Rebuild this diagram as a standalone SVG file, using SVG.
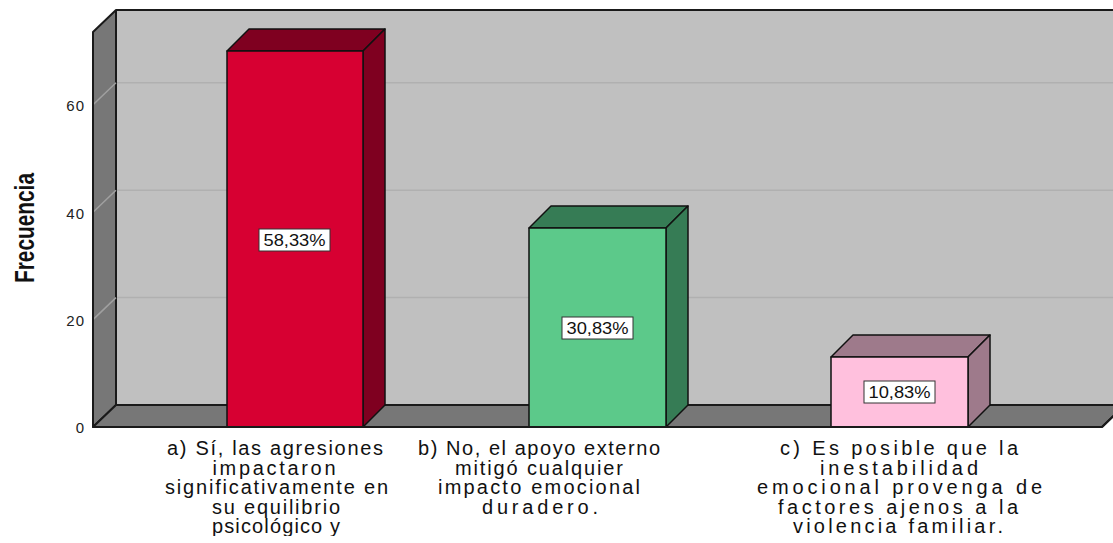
<svg xmlns="http://www.w3.org/2000/svg" width="1113" height="543" viewBox="0 0 1113 543">
<defs>
<style>
.wall{fill:#777777;stroke:#1a1a1a;stroke-width:2;stroke-linejoin:round}
.back{fill:#c0c0c0}
.grid{stroke:#b0b0b0;stroke-width:1.5}
.gridside{stroke:#a0a0a0;stroke-width:1.5}
.edge{stroke:#1a1a1a;stroke-width:2;fill:none}
.bar{stroke:#111;stroke-width:1.5;stroke-linejoin:round}
.tick{font-family:"Liberation Sans",Arial,sans-serif;font-size:15px;fill:#222;text-anchor:end;letter-spacing:1px}
.cat{font-family:"Liberation Sans",Arial,sans-serif;font-size:20px;fill:#111;text-anchor:middle}
.val{font-family:"Liberation Sans",Arial,sans-serif;font-size:16px;fill:#111;text-anchor:middle}
.box{fill:#ffffff;stroke:#333;stroke-width:1}
.ytitle{font-family:"Liberation Sans",Arial,sans-serif;font-size:28px;font-weight:bold;fill:#111;text-anchor:middle}
</style>
<clipPath id="clipcat"><rect x="0" y="430" width="1113" height="106"/></clipPath>
</defs>

<g id="chart-frame">
<rect class="back" x="116" y="10" width="1000" height="395"/>
<line class="grid" x1="116" y1="82.8" x2="1113" y2="82.8"/>
<line class="grid" x1="116" y1="190.2" x2="1113" y2="190.2"/>
<line class="grid" x1="116" y1="297.6" x2="1113" y2="297.6"/>
<polygon class="wall" points="93,32 116,10 116,405 93,427"/>
<line class="gridside" x1="93" y1="104.8" x2="116" y2="82.8"/>
<line class="gridside" x1="93" y1="212.2" x2="116" y2="190.2"/>
<line class="gridside" x1="93" y1="319.6" x2="116" y2="297.6"/>
<polygon class="wall" points="93,427 116,405 1125,405 1102,427"/>
<line class="edge" x1="116" y1="10" x2="1113" y2="10"/>
<line class="edge" x1="93" y1="32" x2="93" y2="427"/>
</g>

<g id="y-axis">
<text class="tick" x="85" y="111">60</text>
<text class="tick" x="85" y="219">40</text>
<text class="tick" x="85" y="326">20</text>
<text class="tick" x="85" y="433">0</text>
<text class="ytitle" transform="translate(34,228) rotate(-90)" textLength="110" lengthAdjust="spacingAndGlyphs">Frecuencia</text>
</g>

<g id="connectors"></g>

<g id="bar-a">
<polygon class="bar" fill="#7f0020" points="227,51 249,29 385,29 363,51"/>
<polygon class="bar" fill="#7f0020" points="363,51 385,29 385,405 363,427"/>
<rect class="bar" fill="#d70032" x="227" y="51" width="136" height="376"/>
<rect class="box" x="259" y="229" width="71" height="22"/>
<text class="val" x="294.5" y="246" textLength="62" lengthAdjust="spacingAndGlyphs">58,33%</text>
</g>

<g id="bar-b">
<polygon class="bar" fill="#367c55" points="529,228 551,206 688,206 666,228"/>
<polygon class="bar" fill="#367c55" points="666,228 688,206 688,405 666,427"/>
<rect class="bar" fill="#5cc98a" x="529" y="228" width="137" height="199"/>
<rect class="box" x="562" y="317" width="71" height="22"/>
<text class="val" x="597.5" y="334" textLength="62" lengthAdjust="spacingAndGlyphs">30,83%</text>
</g>

<g id="bar-c">
<polygon class="bar" fill="#9e7a8b" points="831,357 853,335 990,335 968,357"/>
<polygon class="bar" fill="#9e7a8b" points="968,357 990,335 990,405 968,427"/>
<rect class="bar" fill="#ffc0dd" x="831" y="357" width="137" height="70"/>
<rect class="box" x="864" y="381" width="71" height="22"/>
<text class="val" x="899.5" y="398" textLength="62" lengthAdjust="spacingAndGlyphs">10,83%</text>
</g>

<g id="floor-edges">
<line class="edge" x1="93" y1="427" x2="1102" y2="427"/>
<line class="edge" x1="1102" y1="427" x2="1125" y2="405"/>
</g>

<g id="labels" clip-path="url(#clipcat)">
<g id="label-a">
<text class="cat" x="275" y="455" textLength="216" lengthAdjust="spacing">a) Sí, las agresiones</text>
<text class="cat" x="274" y="474.5" textLength="123" lengthAdjust="spacing">impactaron</text>
<text class="cat" x="276.5" y="494" textLength="223" lengthAdjust="spacing">significativamente en</text>
<text class="cat" x="276" y="513.5" textLength="128" lengthAdjust="spacing">su equilibrio</text>
<text class="cat" x="276" y="533" textLength="128" lengthAdjust="spacing">psicológico y</text>
</g>
<g id="label-b">
<text class="cat" x="539" y="455" textLength="242" lengthAdjust="spacing">b) No, el apoyo externo</text>
<text class="cat" x="539" y="474.5" textLength="168" lengthAdjust="spacing">mitigó cualquier</text>
<text class="cat" x="539" y="494" textLength="202" lengthAdjust="spacing">impacto emocional</text>
<text class="cat" x="540" y="513.5" textLength="116" lengthAdjust="spacing">duradero.</text>
</g>
<g id="label-c">
<text class="cat" x="899" y="455" textLength="238" lengthAdjust="spacing">c) Es posible que la</text>
<text class="cat" x="899" y="474.5" textLength="158" lengthAdjust="spacing">inestabilidad</text>
<text class="cat" x="899.5" y="494" textLength="285" lengthAdjust="spacing">emocional provenga de</text>
<text class="cat" x="898" y="513.5" textLength="240" lengthAdjust="spacing">factores ajenos a la</text>
<text class="cat" x="898" y="533" textLength="210" lengthAdjust="spacing">violencia familiar.</text>
</g>
</g>
</svg>
